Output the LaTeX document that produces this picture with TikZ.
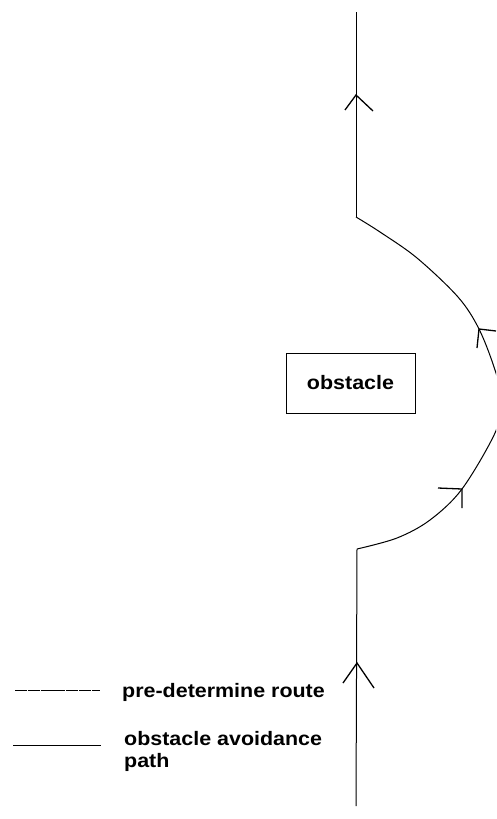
\documentclass[tikz,border=0pt]{standalone}
\usepackage{fontspec}
\setmainfont{Liberation Sans}[FakeStretch=1.1]
\begin{document}
\begin{tikzpicture}[x=1pt,y=-1pt,
  route/.style={line width=1pt,black},
  tip/.style={line width=1.3pt,black},
  lbl/.style={font=\fontsize{19.5}{21}\selectfont\bfseries,inner sep=0pt}]
\useasboundingbox (0,0) rectangle (496,819);
\clip (0,0) rectangle (496,819);
% main route coordinates
\coordinate (top) at (356,12);
\coordinate (a) at (356,217);
\coordinate (b) at (357,549);
\coordinate (bot) at (356,806);
% obstacle
\node[draw,line width=1pt,minimum width=129pt,minimum height=60pt,inner sep=0pt,lbl] (obs) at (350.5,383) {obstacle};
% straight parts
\draw[route] (top) -- (a);
\draw[route] (b) -- (bot);
% avoidance curve
\draw[route] plot[smooth,tension=0.55] coordinates {(356,217) (380,232) (417,258) (458,297) (479,329) (495,370) (502,401) (495,433) (462,489) (430,520) (397,538) (357,549)};
% arrowheads on route
\coordinate (t1) at (356,95);
\draw[tip] (345,110) -- (t1) -- (373,111);
\coordinate (t2) at (357,663);
\draw[tip] (343,683) -- (t2) -- (374,688);
% arrowheads on curve
\coordinate (t3) at (479,329);
\draw[tip] (496,331) -- (t3) -- (477,348);
\coordinate (t4) at (462,489);
\draw[tip] (438,488) -- (t4) -- (462,508);
% legend
\coordinate (l1a) at (15,690);
\coordinate (l1b) at (100,690);
\coordinate (l2a) at (13,745);
\coordinate (l2b) at (101,745);
\draw[route,dash pattern=on 12pt off 0.8pt] (l1a) -- (l1b);
\draw[route] (l2a) -- (l2b);
\node[lbl,anchor=base west] (leg1) at (122,697) {pre-determine route};
\node[lbl,anchor=base west] (leg2) at (124,745) {obstacle avoidance};
\node[lbl,anchor=base west] (leg3) at (124,767) {path};
\end{tikzpicture}
\end{document}
